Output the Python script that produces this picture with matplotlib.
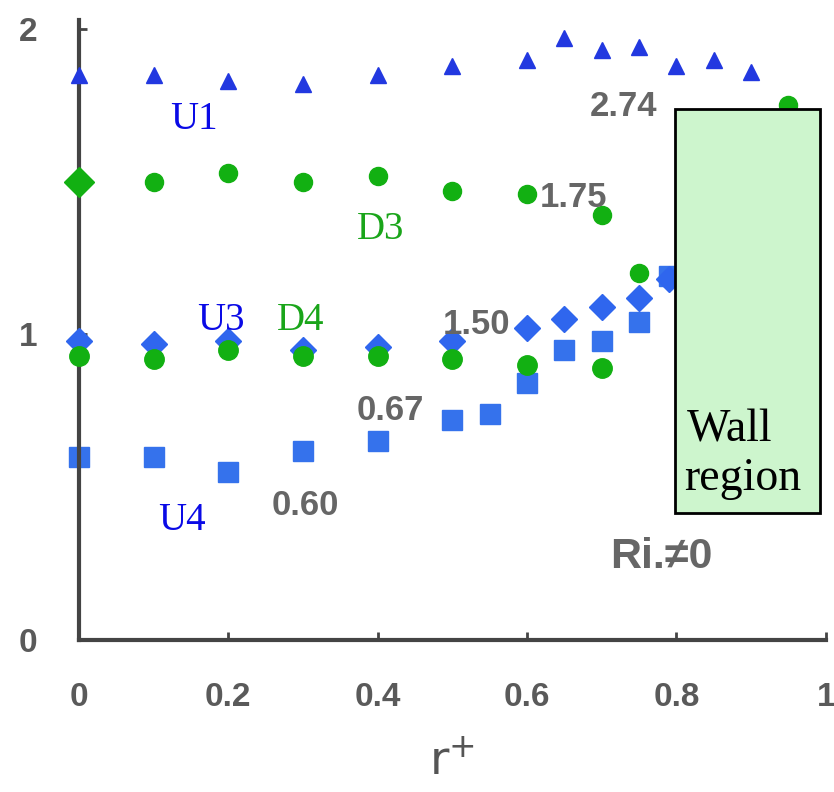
import matplotlib
matplotlib.use("Agg")
import matplotlib.pyplot as plt
from matplotlib.patches import Rectangle

# --- data ---
u1_r = [0.0, 0.1, 0.2, 0.3, 0.4, 0.5, 0.6, 0.65, 0.7, 0.75, 0.8, 0.85, 0.9]
u1_v = [1.85, 1.85, 1.83, 1.82, 1.85, 1.88, 1.90, 1.97, 1.93, 1.94, 1.88, 1.90, 1.86]

d3_r = [0.0, 0.1, 0.2, 0.3, 0.4, 0.5, 0.6, 0.7, 0.75, 0.95]
d3_v = [1.50, 1.50, 1.53, 1.50, 1.52, 1.47, 1.46, 1.39, 1.20, 1.75]

u3_r = [0.0, 0.1, 0.2, 0.3, 0.4, 0.5, 0.6, 0.65, 0.7, 0.75, 0.79]
u3_v = [0.98, 0.97, 0.98, 0.95, 0.96, 0.98, 1.02, 1.05, 1.09, 1.12, 1.18]

d4_r = [0.0, 0.1, 0.2, 0.3, 0.4, 0.5, 0.6, 0.7]
d4_v = [0.93, 0.92, 0.95, 0.93, 0.93, 0.92, 0.90, 0.89]

u4_r = [0.0, 0.1, 0.2, 0.3, 0.4, 0.5, 0.55, 0.6, 0.65, 0.7, 0.75, 0.79]
u4_v = [0.60, 0.60, 0.55, 0.62, 0.65, 0.72, 0.74, 0.84, 0.95, 0.98, 1.04, 1.19]

x_ticks = [0, 0.2, 0.4, 0.6, 0.8, 1]
x_ticklabels = ["0", "0.2", "0.4", "0.6", "0.8", "1"]
y_ticks = [0, 1, 2]
y_ticklabels = ["0", "1", "2"]

# annotations: (text, x, y, size) -- left/baseline anchored
value_notes = [("2.74", 0.684, 1.715, 25), ("1.75", 0.617, 1.416, 25),
               ("1.50", 0.487, 1.0, 25), ("0.67", 0.372, 0.72, 25),
               ("0.60", 0.258, 0.41, 25), ("Ri.\u22600", 0.712, 0.236, 31)]
series_notes = [("U1", 0.122, 1.672, "#0a0ae6"), ("D3", 0.372, 1.311, "#1aa51a"),
                ("U3", 0.158, 1.016, "#0a0ae6"), ("D4", 0.265, 1.016, "#1aa51a"),
                ("U4", 0.106, 0.36, "#0a0ae6")]

fig = plt.figure(figsize=(8.34, 7.92), dpi=100)
ax = fig.add_axes([0.0947, 0.192, 0.8953, 0.783])

ax.plot(u1_r, u1_v, "^", color="#2238e0", ms=11, ls="none", clip_on=False, zorder=3)
ax.plot(d3_r, d3_v, "o", color="#12b012", ms=13, ls="none", clip_on=False, zorder=3)
ax.plot(u3_r, u3_v, "D", color="#2f66ee", ms=13, ls="none", clip_on=False, zorder=3)
ax.plot(u4_r, u4_v, "s", color="#3572ec", ms=15, ls="none", clip_on=False, zorder=2)
ax.plot(d4_r, d4_v, "o", color="#12b012", ms=14, ls="none", clip_on=False, zorder=4)
# D3 at the axis drawn as a diamond
ax.plot([d3_r[0]], [d3_v[0]], "D", color="#12b012", ms=15, clip_on=False, zorder=5)

ax.add_patch(Rectangle((0.798, 0.416), 0.195, 1.322, facecolor="#cdf5cd",
                       edgecolor="black", linewidth=2, zorder=6))
ax.text(0.814, 0.649, "Wall", family="Liberation Serif", fontsize=33, zorder=7)
ax.text(0.811, 0.49, "region", family="Liberation Serif", fontsize=33, zorder=7)

for txt, x, y, size in value_notes:
    ax.text(x, y, txt, color="#666666", fontsize=size, fontweight="bold",
            family="Liberation Sans", zorder=5)
for txt, x, y, c in series_notes:
    ax.text(x, y, txt, color=c, fontsize=28, family="Liberation Serif", zorder=5)

ax.set_xlim(0, 1)
ax.set_ylim(0, 2.03)
ax.set_xticks(x_ticks)
ax.set_xticklabels(x_ticklabels)
ax.set_yticks(y_ticks)
ax.set_yticklabels(y_ticklabels)
for lab in ax.get_xticklabels() + ax.get_yticklabels():
    lab.set_fontweight("bold")
    lab.set_family("Liberation Sans")
    lab.set_fontsize(24)
    lab.set_color("#5a5a5a")
ax.tick_params(axis="both", direction="in", length=6, width=2, color="#444444")
ax.tick_params(axis="x", pad=30)
ax.tick_params(axis="y", pad=30)

for side in ["top", "right"]:
    ax.spines[side].set_visible(False)
for side in ["left", "bottom"]:
    ax.spines[side].set_linewidth(3)
    ax.spines[side].set_color("#444444")

ax.set_xlabel("r$^{+}$", fontsize=34, color="#555555", labelpad=20)

fig.savefig("out.png", dpi=100)
